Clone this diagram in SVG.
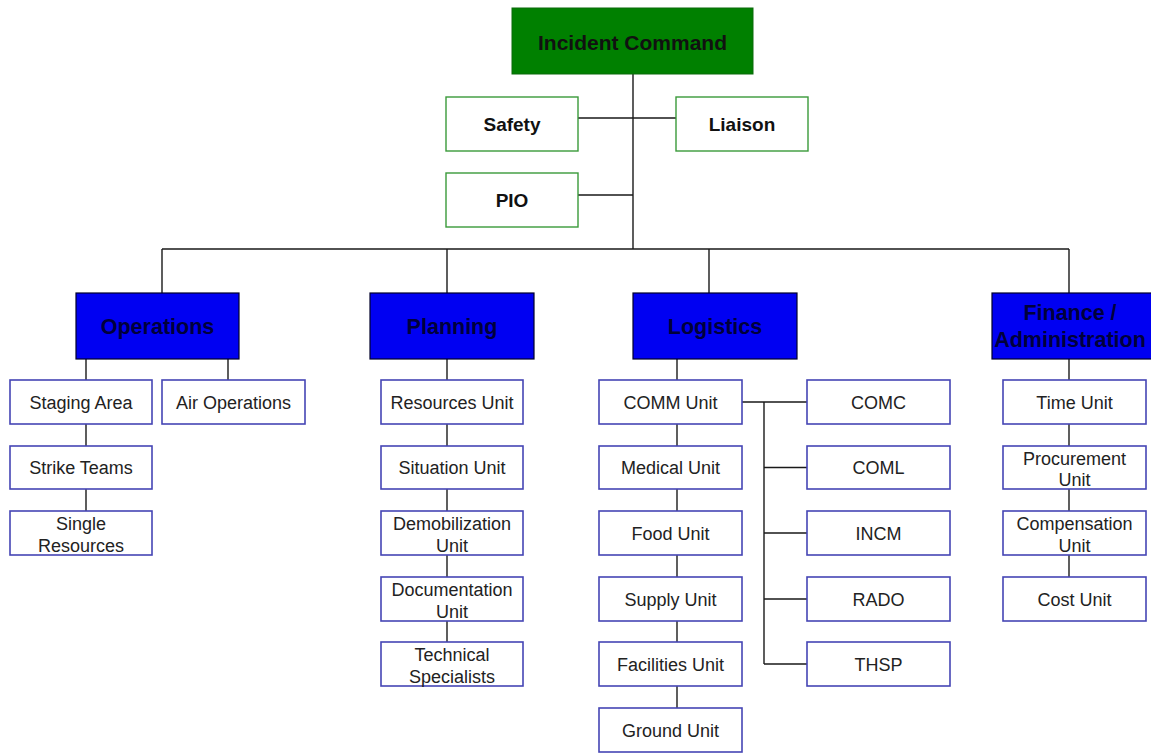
<svg xmlns="http://www.w3.org/2000/svg" width="1151" height="753" viewBox="0 0 1151 753">
<style>
.ln{stroke:#1a1a1a;stroke-width:1.4;fill:none}
.ic{fill:#008000;stroke:#0a6a0a;stroke-width:1}
.st{fill:#fff;stroke:#3a9a3a;stroke-width:1.4}
.sec{fill:#0000f2;stroke:#00002a;stroke-width:1.2}
.u{fill:#fff;stroke:#4545b5;stroke-width:1.6}
text{font-family:"Liberation Sans",Arial,sans-serif;text-anchor:middle}
.t1{font-size:21px;font-weight:bold;fill:#111}
.t2{font-size:19px;font-weight:bold;fill:#111}
.t3{font-size:21.5px;font-weight:bold;fill:#00003a}
.t4{font-size:18px;fill:#222}
</style>
<rect width="1151" height="753" fill="#fff"/>
<g id="connectors">
<path class="ln" d="M633 74V249M578 118H676M578 195H633"/>
<path class="ln" d="M162 249H1069M162 249V293M447 249V293M709 249V293M1069 249V293"/>
<path class="ln" d="M86 359V533M228 359V380"/>
<path class="ln" d="M447 359V664"/>
<path class="ln" d="M677 359V730"/>
<path class="ln" d="M742 402H807M764 402V664M764 467.5H807M764 533H807M764 599H807M764 664H807"/>
<path class="ln" d="M1069 359V599"/>
</g>
<g id="incident-command"><rect class="ic" x="512" y="8" width="241" height="66"/><text class="t1" x="632.5" y="50">Incident Command</text></g>
<g id="safety"><rect class="st" x="446" y="97" width="132" height="54"/><text class="t2" x="512" y="131">Safety</text></g>
<g id="liaison"><rect class="st" x="676" y="97" width="132" height="54"/><text class="t2" x="742" y="131">Liaison</text></g>
<g id="pio"><rect class="st" x="446" y="173" width="132" height="54"/><text class="t2" x="512" y="207">PIO</text></g>

<g id="operations"><rect class="sec" x="76" y="293" width="163" height="66"/><text class="t3" x="157.5" y="333.5">Operations</text></g>
<g id="planning"><rect class="sec" x="370" y="293" width="164" height="66"/><text class="t3" x="452" y="333.5">Planning</text></g>
<g id="logistics"><rect class="sec" x="633" y="293" width="164" height="66"/><text class="t3" x="715" y="333.5">Logistics</text></g>
<g id="finance"><rect class="sec" x="992" y="293" width="170" height="66"/><text class="t3" x="1070" y="320">Finance /</text><text class="t3" x="1070" y="347">Administration</text></g>

<g id="staging-area"><rect class="u" x="10" y="380" width="142" height="44"/><text class="t4" x="81" y="408.5">Staging Area</text></g>
<g id="air-operations"><rect class="u" x="162" y="380" width="143" height="44"/><text class="t4" x="233.5" y="408.5">Air Operations</text></g>
<g id="strike-teams"><rect class="u" x="10" y="446" width="142" height="43"/><text class="t4" x="81" y="474">Strike Teams</text></g>
<g id="single-resources"><rect class="u" x="10" y="511" width="142" height="44"/><text class="t4" x="81" y="530">Single</text><text class="t4" x="81" y="552">Resources</text></g>

<g id="resources-unit"><rect class="u" x="381" y="380" width="142" height="44"/><text class="t4" x="452" y="408.5">Resources Unit</text></g>
<g id="situation-unit"><rect class="u" x="381" y="446" width="142" height="43"/><text class="t4" x="452" y="474">Situation Unit</text></g>
<g id="demobilization-unit"><rect class="u" x="381" y="511" width="142" height="44"/><text class="t4" x="452" y="530">Demobilization</text><text class="t4" x="452" y="552">Unit</text></g>
<g id="documentation-unit"><rect class="u" x="381" y="577" width="142" height="44"/><text class="t4" x="452" y="596">Documentation</text><text class="t4" x="452" y="618">Unit</text></g>
<g id="technical-specialists"><rect class="u" x="381" y="642" width="142" height="44"/><text class="t4" x="452" y="661">Technical</text><text class="t4" x="452" y="683">Specialists</text></g>

<g id="comm-unit"><rect class="u" x="599" y="380" width="143" height="44"/><text class="t4" x="670.5" y="408.5">COMM Unit</text></g>
<g id="medical-unit"><rect class="u" x="599" y="446" width="143" height="43"/><text class="t4" x="670.5" y="474">Medical Unit</text></g>
<g id="food-unit"><rect class="u" x="599" y="511" width="143" height="44"/><text class="t4" x="670.5" y="539.5">Food Unit</text></g>
<g id="supply-unit"><rect class="u" x="599" y="577" width="143" height="44"/><text class="t4" x="670.5" y="605.5">Supply Unit</text></g>
<g id="facilities-unit"><rect class="u" x="599" y="642" width="143" height="44"/><text class="t4" x="670.5" y="670.5">Facilities Unit</text></g>
<g id="ground-unit"><rect class="u" x="599" y="708" width="143" height="44"/><text class="t4" x="670.5" y="736.5">Ground Unit</text></g>

<g id="comc"><rect class="u" x="807" y="380" width="143" height="44"/><text class="t4" x="878.5" y="408.5">COMC</text></g>
<g id="coml"><rect class="u" x="807" y="446" width="143" height="43"/><text class="t4" x="878.5" y="474">COML</text></g>
<g id="incm"><rect class="u" x="807" y="511" width="143" height="44"/><text class="t4" x="878.5" y="539.5">INCM</text></g>
<g id="rado"><rect class="u" x="807" y="577" width="143" height="44"/><text class="t4" x="878.5" y="605.5">RADO</text></g>
<g id="thsp"><rect class="u" x="807" y="642" width="143" height="44"/><text class="t4" x="878.5" y="670.5">THSP</text></g>

<g id="time-unit"><rect class="u" x="1003" y="380" width="143" height="44"/><text class="t4" x="1074.5" y="408.5">Time Unit</text></g>
<g id="procurement-unit"><rect class="u" x="1003" y="446" width="143" height="43"/><text class="t4" x="1074.5" y="464.5">Procurement</text><text class="t4" x="1074.5" y="486">Unit</text></g>
<g id="compensation-unit"><rect class="u" x="1003" y="511" width="143" height="44"/><text class="t4" x="1074.5" y="530">Compensation</text><text class="t4" x="1074.5" y="552">Unit</text></g>
<g id="cost-unit"><rect class="u" x="1003" y="577" width="143" height="44"/><text class="t4" x="1074.5" y="605.5">Cost Unit</text></g>
</svg>
